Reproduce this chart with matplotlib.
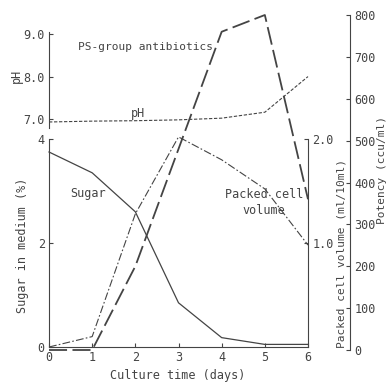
import matplotlib
matplotlib.use("Agg")
import matplotlib.pyplot as plt

# data
days = [0, 1, 2, 3, 4, 5, 6]
sugar = [3.75, 3.35, 2.6, 0.85, 0.18, 0.05, 0.05]        # %
pcv = [0.0, 0.1, 1.28, 2.02, 1.8, 1.52, 0.98]            # ml/10ml
potency = [0, 0, 200, 480, 760, 800, 360]                # ccu/ml
ph = [6.93, 6.95, 6.96, 6.98, 7.02, 7.16, 8.0]

W_PX, H_PX = 389, 385
fg = "#444444"
plt.rcParams["font.family"] = "DejaVu Sans Mono"
plt.rcParams["font.size"] = 8.5
plt.rcParams["text.color"] = fg
plt.rcParams["axes.edgecolor"] = fg
plt.rcParams["xtick.color"] = fg
plt.rcParams["ytick.color"] = fg

fig = plt.figure(figsize=(W_PX / 100, H_PX / 100), dpi=100)


def box(x0, y_top, x1, y_bot):
    return [x0 / W_PX, 1 - y_bot / H_PX, (x1 - x0) / W_PX, (y_bot - y_top) / H_PX]


def px(x, y):
    return x / W_PX, 1 - y / H_PX


X0, X1 = 49, 308

# sugar axes (bottom left)
ax = fig.add_axes(box(X0, 139, X1, 347))
ax.patch.set_visible(False)
ax.set_xlim(0, 6)
ax.set_ylim(0, 4)
for s in ["top", "right"]:
    ax.spines[s].set_visible(False)
ax.set_xticks(days)
ax.set_yticks([0, 2, 4])
ax.tick_params(direction="in", length=3, width=0.8, pad=3)
ax.plot(days, sugar, color=fg, lw=0.9, clip_on=False)

# packed cell volume on right spine at day 6
ax_pcv = ax.twinx()
ax_pcv.set_ylim(0, 2)
for s in ["top", "left", "bottom"]:
    ax_pcv.spines[s].set_visible(False)
ax_pcv.set_yticks([1.0, 2.0])
ax_pcv.set_yticklabels(["1.0", "2.0"])
ax_pcv.tick_params(direction="in", length=3, width=0.8, pad=3)
ax_pcv.plot(days, pcv, color=fg, lw=0.8, linestyle=(0, (7, 2, 1.5, 2)), clip_on=False)

# pH axes (top left)
ax_ph = fig.add_axes(box(X0, 32, X1, 127.5))
ax_ph.patch.set_visible(False)
ax_ph.set_xlim(0, 6)
ax_ph.set_ylim(6.8, 9.05)
for s in ["top", "right", "bottom"]:
    ax_ph.spines[s].set_visible(False)
ax_ph.set_xticks([])
ax_ph.set_yticks([7, 8, 9])
ax_ph.set_yticklabels(["7.0", "8.0", "9.0"])
ax_ph.tick_params(direction="in", length=3, width=0.8, pad=3)
ax_ph.plot(days, ph, color=fg, lw=0.8, linestyle=(0, (3, 1.5)), clip_on=False)

# potency axes (full height, far right spine)
ax_pot = fig.add_axes(box(X0, 15, X1, 350))
ax_pot.patch.set_visible(False)
ax_pot.set_xlim(0, 6)
ax_pot.set_ylim(0, 800)
for s in ["top", "left", "bottom"]:
    ax_pot.spines[s].set_visible(False)
ax_pot.spines["right"].set_position(("axes", (350 - X0) / (X1 - X0)))
ax_pot.set_xticks([])
ax_pot.yaxis.tick_right()
ax_pot.set_yticks(range(0, 801, 100))
ax_pot.tick_params(direction="in", length=3, width=0.8, pad=3)
ax_pot.plot(days, potency, color=fg, lw=1.3, linestyle=(0, (10, 3)), clip_on=False)

# axis titles
fig.text(*px(16, 76), "pH", rotation=90, ha="center", va="center")
fig.text(*px(23, 245), "Sugar in medium (%)", rotation=90, ha="center", va="center")
fig.text(*px(342, 253), "Packed cell volume (ml/10ml)", rotation=90, ha="center",
         va="center", fontsize=8)
fig.text(*px(382, 170), "Potency (ccu/ml)", rotation=90, ha="center", va="center",
         fontsize=8)
fig.text(*px(178, 376), "Culture time (days)", ha="center", va="center")

# curve labels
fig.text(*px(145, 47), "PS-group antibiotics", ha="center", va="center", fontsize=8)
fig.text(*px(138, 113), "pH", ha="center", va="center")
fig.text(*px(88, 194), "Sugar", ha="center", va="center")
fig.text(*px(264, 203), "Packed cell\nvolume", ha="center", va="center", linespacing=1.3)

fig.savefig("out.png", dpi=100)
